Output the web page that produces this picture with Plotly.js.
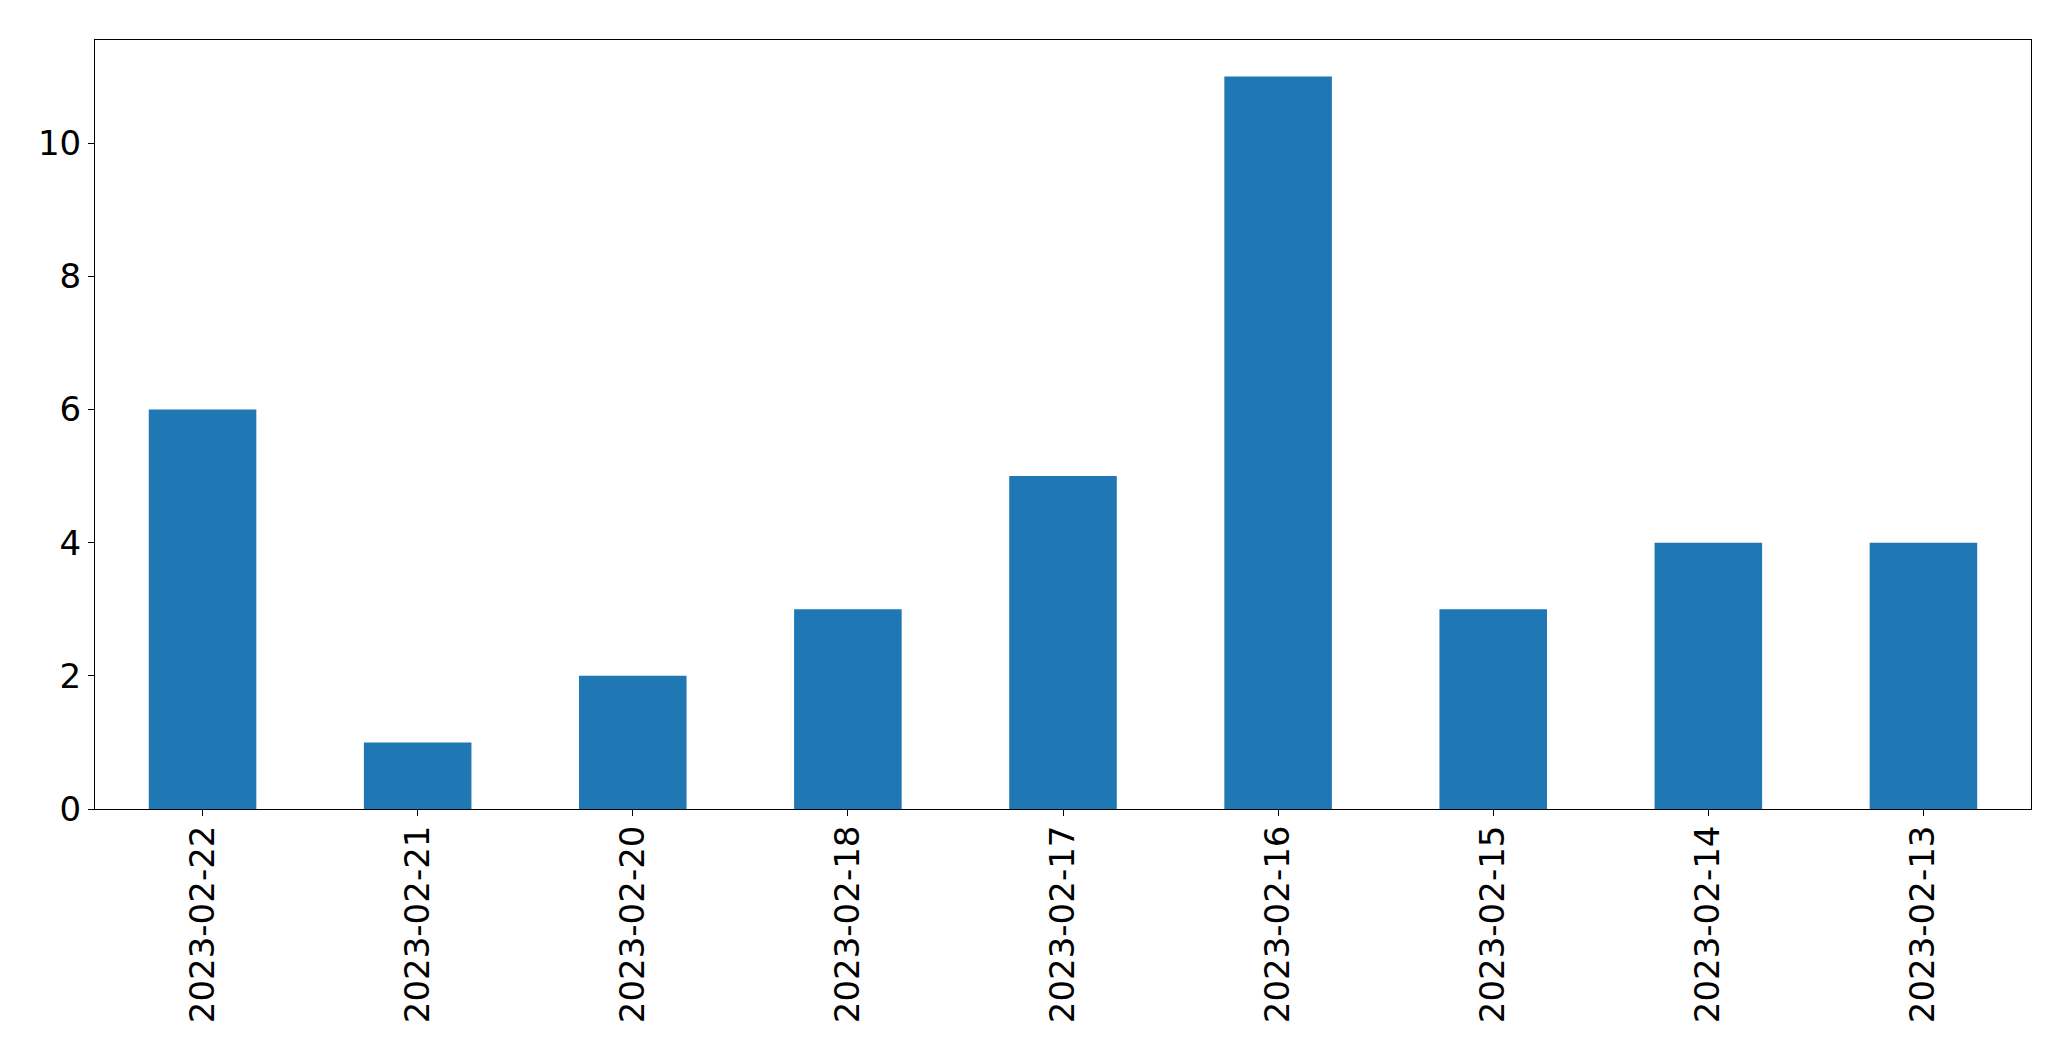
<!DOCTYPE html>
<html>
<head>
<meta charset="utf-8">
<script src="https://cdn.plot.ly/plotly-3.0.1.min.js"></script>
<style>html,body{margin:0;padding:0;background:#fff;}#chart{width:2071px;height:1061px;}</style>
</head>
<body>
<div id="chart"></div>
<script>
const dates = ["2023-02-22","2023-02-21","2023-02-20","2023-02-18","2023-02-17","2023-02-16","2023-02-15","2023-02-14","2023-02-13"];
const counts = [6, 1, 2, 3, 5, 11, 3, 4, 4];
const yTicks = [0, 2, 4, 6, 8, 10];

const trace = {
  type: 'bar',
  x: dates.map((d, i) => i),
  y: counts,
  width: 0.5,
  marker: {color: '#1f77b4', line: {width: 0}},
  hoverinfo: 'x+y'
};

const font = {family: 'DejaVu Sans, sans-serif', size: 34, color: '#000'};

const layout = {
  width: 2071,
  height: 1061,
  margin: {l: 94.5, r: 40, t: 39.5, b: 252, pad: 0},
  paper_bgcolor: '#fff',
  plot_bgcolor: '#fff',
  showlegend: false,
  font: font,
  xaxis: {
    range: [-0.5, 8.5],
    tickmode: 'array',
    tickvals: dates.map((d, i) => i),
    ticktext: dates,
    tickangle: -90,
    ticks: 'outside',
    ticklen: 6,
    tickwidth: 1,
    tickcolor: '#000',
    ticklabelstandoff: -4,
    showline: true,
    linecolor: '#000',
    linewidth: 1,
    mirror: true,
    showgrid: false,
    zeroline: false,
    tickfont: font
  },
  yaxis: {
    range: [0, 11.55],
    tickmode: 'array',
    tickvals: yTicks,
    ticktext: yTicks.map(String),
    ticks: 'outside',
    ticklen: 6,
    tickwidth: 1,
    tickcolor: '#000',
    showline: true,
    linecolor: '#000',
    linewidth: 1,
    mirror: true,
    showgrid: false,
    zeroline: false,
    tickfont: font
  }
};

Plotly.newPlot('chart', [trace], layout, {displayModeBar: false, staticPlot: true});
</script>
</body>
</html>
